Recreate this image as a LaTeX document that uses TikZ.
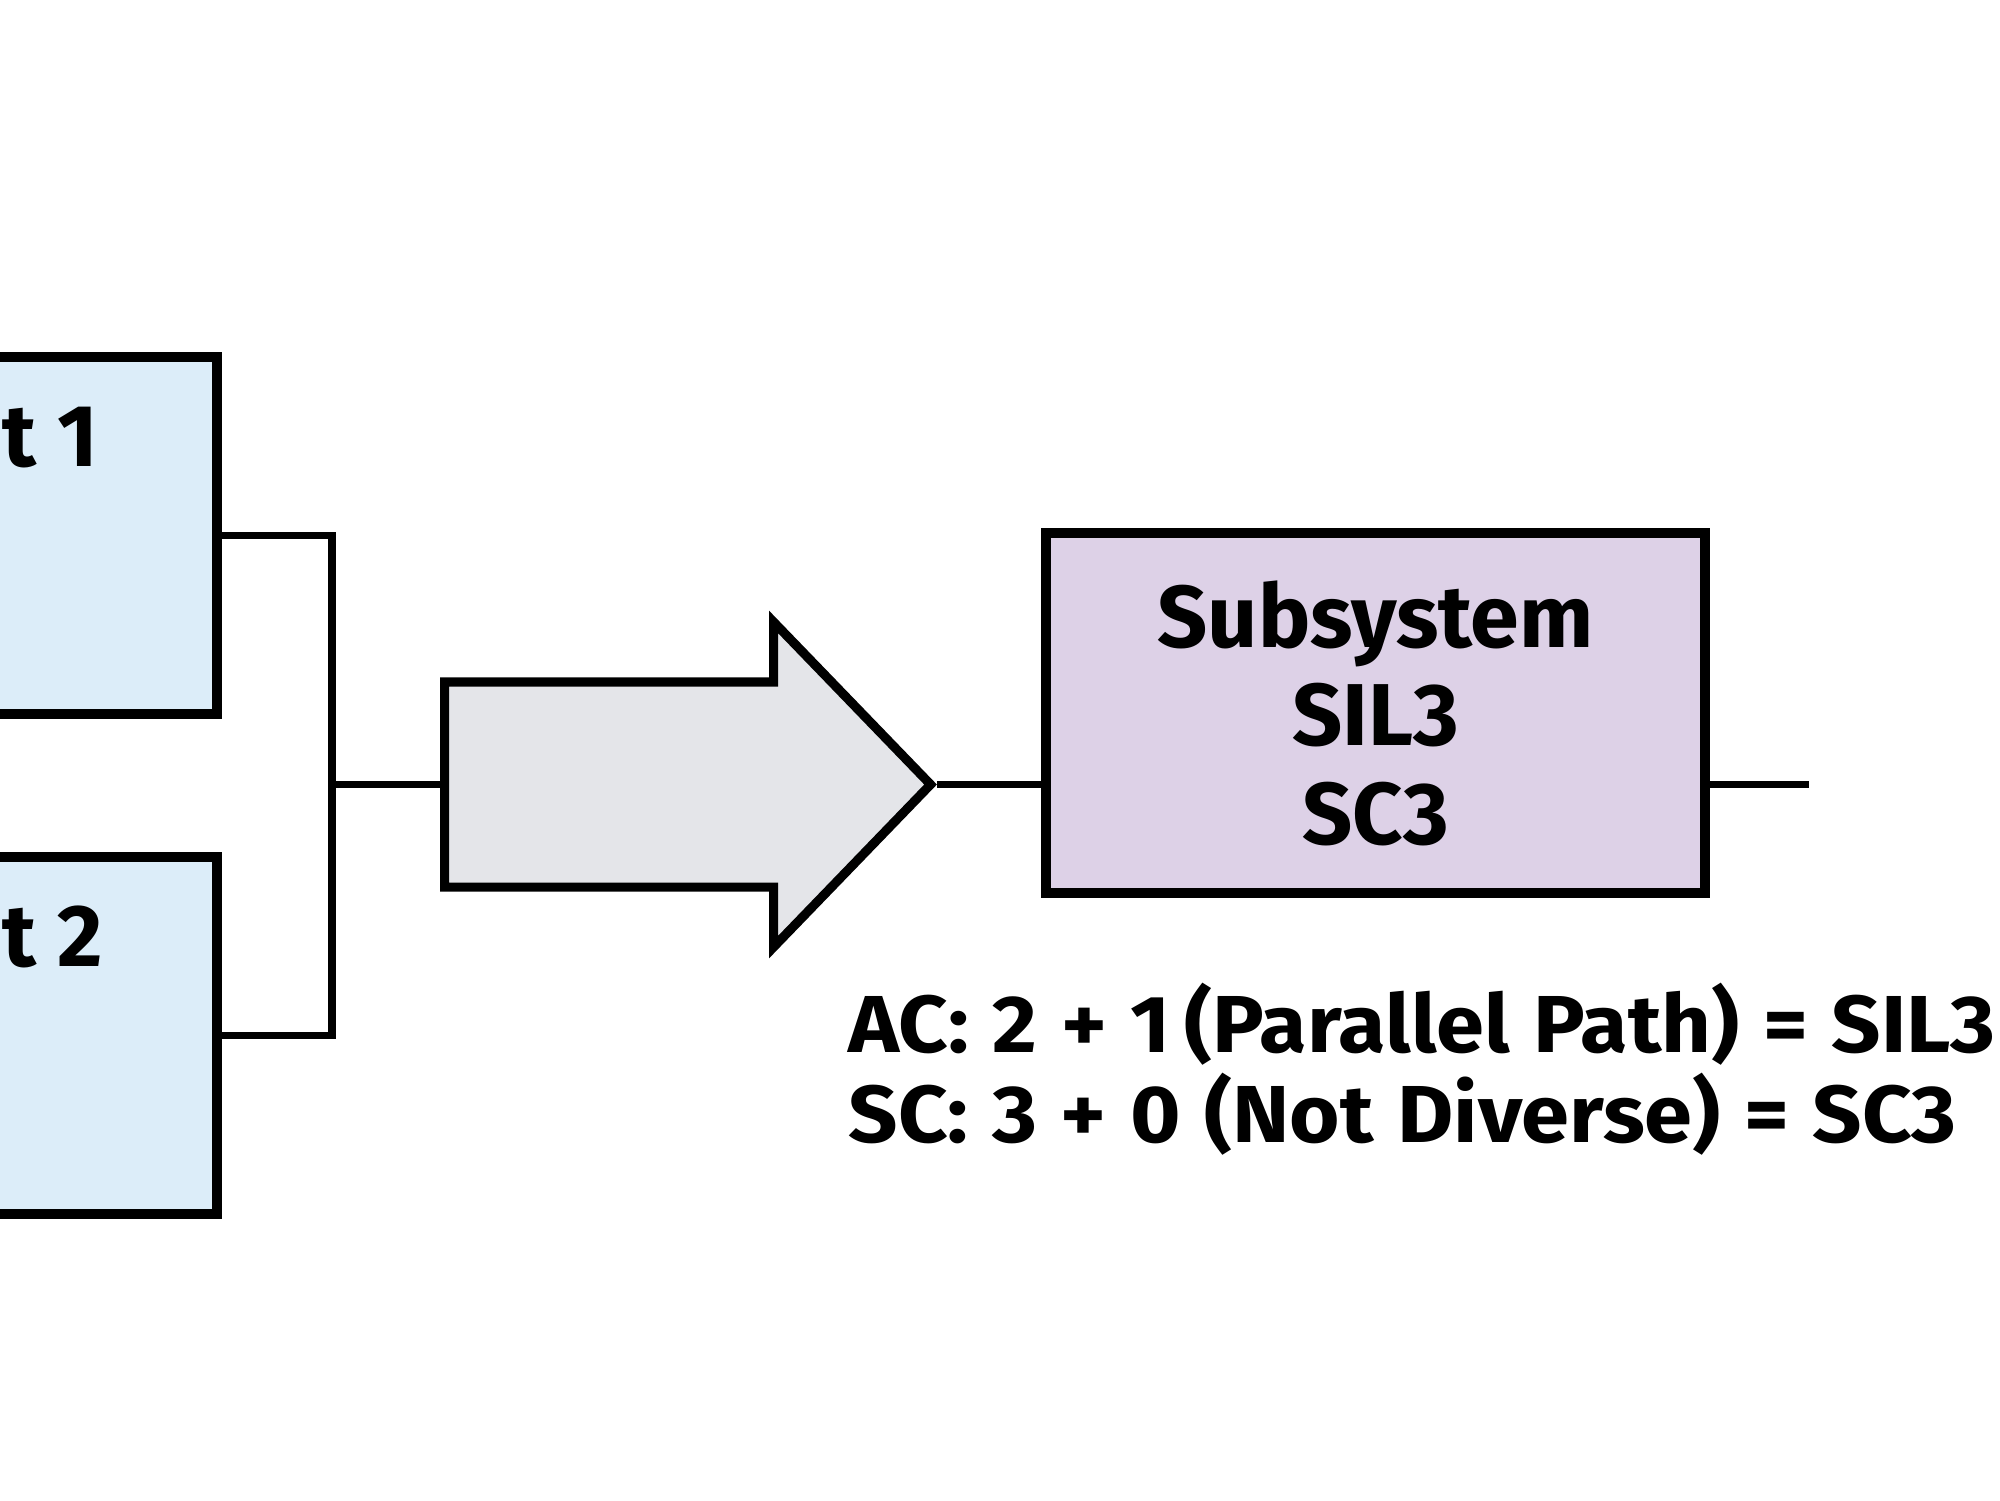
\documentclass[tikz,border=0pt]{standalone}
\usepackage{fontspec}
\setmainfont{Fira Sans}
\newfontfamily\notefont{Fira Sans}[WordSpace=1.15,FakeStretch=1.07]
\usepackage{tikz}
\usetikzlibrary{positioning,shapes.arrows}
\definecolor{chanblue}{HTML}{DCEDF9}
\definecolor{subpurple}{HTML}{DDD1E7}
\definecolor{flowgray}{HTML}{E4E5E9}

\begin{document}
\begin{tikzpicture}[
  every node/.style={font=\bfseries\fontsize{25}{28}\selectfont},
  chan/.style={draw,line width=2.8pt,fill=chanblue,minimum width=4cm,minimum height=3.57cm},
  subsys/.style={draw,line width=2.8pt,fill=subpurple,minimum width=6.59cm,minimum height=3.6cm,align=center},
  bigarrow/.style={draw,line width=2.6pt,fill=flowgray,single arrow,single arrow head extend=0.6cm,single arrow tip angle=92,minimum height=4.86cm,inner xsep=0pt,inner ysep=0.98cm},
  wire/.style={line width=2.2pt},
  note/.style={anchor=base west,inner sep=0pt,font=\notefont\bfseries\fontsize{23}{26}\selectfont}
]
\useasboundingbox (0,0) rectangle (20,-15);
\node[chan] (ch1) at (0.17,-5.355) {};
\node[chan] (ch2) at (0.17,-10.355) {};
\node[anchor=base west,inner sep=0pt] (ch1label) at (0.02,-4.66) {t 1};
\node[anchor=base west,inner sep=0pt] (ch2label) at (0.02,-9.66) {t 2};
\coordinate (join) at (3.32,-7.845);
\node[bigarrow,anchor=tail] (flow) at (4.40,-7.845) {};
\node[subsys] (sub) at (13.755,-7.13) {Subsystem\\SIL3\\SC3};
\coordinate (out) at (18.09,-7.845);
\draw[wire] (ch1.east) -| (join);
\draw[wire] (ch2.east) -| (join);
\draw[wire] (join) -- (flow.tail);
\draw[wire] (flow.tip) -- (flow.tip -| sub.west);
\draw[wire] (flow.tip -| sub.east) -- (out);
\node[note] (acnote) at (8.48,-10.52) {AC: 2 + 1\,(Parallel Path) = SIL3};
\node[note] (scnote) at (8.48,-11.42) {SC: 3 + 0 (Not Diverse) = SC3};
\end{tikzpicture}
\end{document}
